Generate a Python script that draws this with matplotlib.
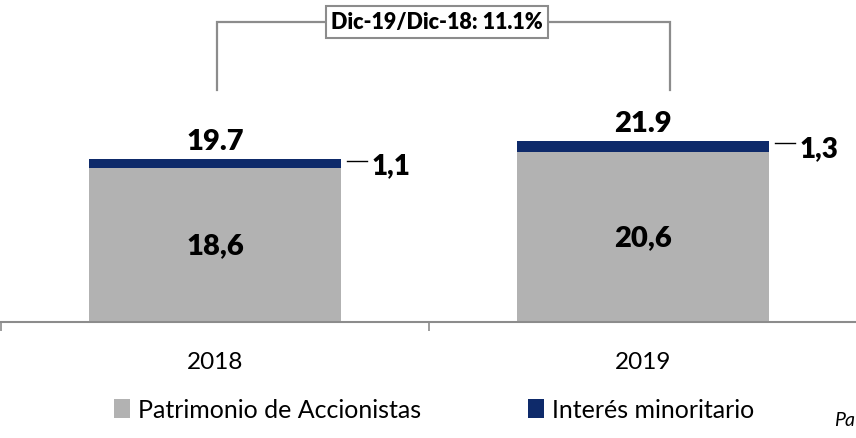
import matplotlib
matplotlib.use("Agg")
import matplotlib.pyplot as plt
from matplotlib.patches import Patch
from matplotlib.transforms import offset_copy

plt.rcParams['font.family'] = ['Lato', 'DejaVu Sans']

categories = ["2018", "2019"]
patrimonio = [18.6, 20.6]
minoritario = [1.1, 1.3]
totals = [19.7, 21.9]
patrimonio_labels = ["18,6", "20,6"]
minoritario_labels = ["1,1", "1,3"]
total_labels = ["19.7", "21.9"]
growth_label = "Dic-19/Dic-18: 11.1%"
series_names = ["Patrimonio de Accionistas", "Interés minoritario"]

grey = "#B2B2B2"
navy = "#0E2A6A"
line_grey = "#8C8C8C"

fig = plt.figure(figsize=(8.56, 4.39), dpi=100)
ax = fig.add_axes([1/856, 116/439, 1.0, 323/439])

x = list(range(len(categories)))
w = 0.59
ax.bar(x, patrimonio, width=w, color=grey, label=series_names[0])
ax.bar(x, minoritario, width=w, bottom=patrimonio, color=navy, label=series_names[1])

ax.set_xlim(-0.5, 1.5)
ax.set_ylim(0, 39.06)

for s in ["top", "left", "right"]:
    ax.spines[s].set_visible(False)
ax.spines["bottom"].set_color(line_grey)
ax.spines["bottom"].set_linewidth(1.5)
ax.set_yticks([])
ax.set_xticks([-0.5, 0.5, 1.5])
ax.set_xticklabels([])
ax.tick_params(axis="x", which="major", length=6.5, width=1.2, color=line_grey, direction="out")
ax.set_xticks(x, minor=True)
ax.set_xticklabels(categories, minor=True, fontsize=17.5)
ax.tick_params(axis="x", which="minor", length=0, pad=21)

# labels
for i in x:
    ax.text(i, patrimonio[i] / 2, patrimonio_labels[i], ha="center", va="center",
            fontsize=21, fontweight="heavy", color="black")
    ax.annotate(total_labels[i], xy=(i, totals[i]), xytext=(0, 13), textcoords="offset points",
                ha="center", va="center", fontsize=21, fontweight="heavy", color="black")
    ymid = patrimonio[i] + minoritario[i] / 2
    xr = i + w / 2
    t1 = offset_copy(ax.transData, fig=fig, x=6, y=3, units="dots")
    t2 = offset_copy(ax.transData, fig=fig, x=26, y=3, units="dots")
    inv = ax.transData.inverted()
    d1 = inv.transform(t1.transform((xr, ymid)))
    d2 = inv.transform(t2.transform((xr, ymid)))
    ax.plot([d1[0], d2[0]], [d1[1], d2[1]], color="black", lw=1.0, clip_on=False)
    ax.annotate(minoritario_labels[i], xy=(xr, ymid), xytext=(22, -1), textcoords="offset points",
                ha="left", va="center", fontsize=20, fontweight="heavy", color="black")

# bracket
bx0, bx1 = 0.005, 1.063
by_low, by_top = 28.05, 36.3
ax.plot([bx0, bx0, bx1, bx1], [by_low, by_top, by_top, by_low], color=line_grey, lw=1.6,
        clip_on=False, solid_joinstyle="miter")
ax.text(0.519, by_top, growth_label, ha="center", va="center", fontsize=15.5, fontweight="heavy",
        bbox=dict(boxstyle="square,pad=0.25", facecolor="white", edgecolor=line_grey, linewidth=1.5))

handles = [Patch(facecolor=grey, edgecolor="none"), Patch(facecolor=navy, edgecolor="none")]
fig.legend(handles, series_names, loc="center", bbox_to_anchor=(434/856, 1 - 411/439), ncol=2,
           frameon=False, fontsize=18, handlelength=0.65, handleheight=0.8, handletextpad=0.3,
           columnspacing=4.3)

fig.text(834/856, 1 - 421/439, "Pa", fontsize=14, style="italic", ha="left", va="center")

fig.savefig("out.png", dpi=100)
